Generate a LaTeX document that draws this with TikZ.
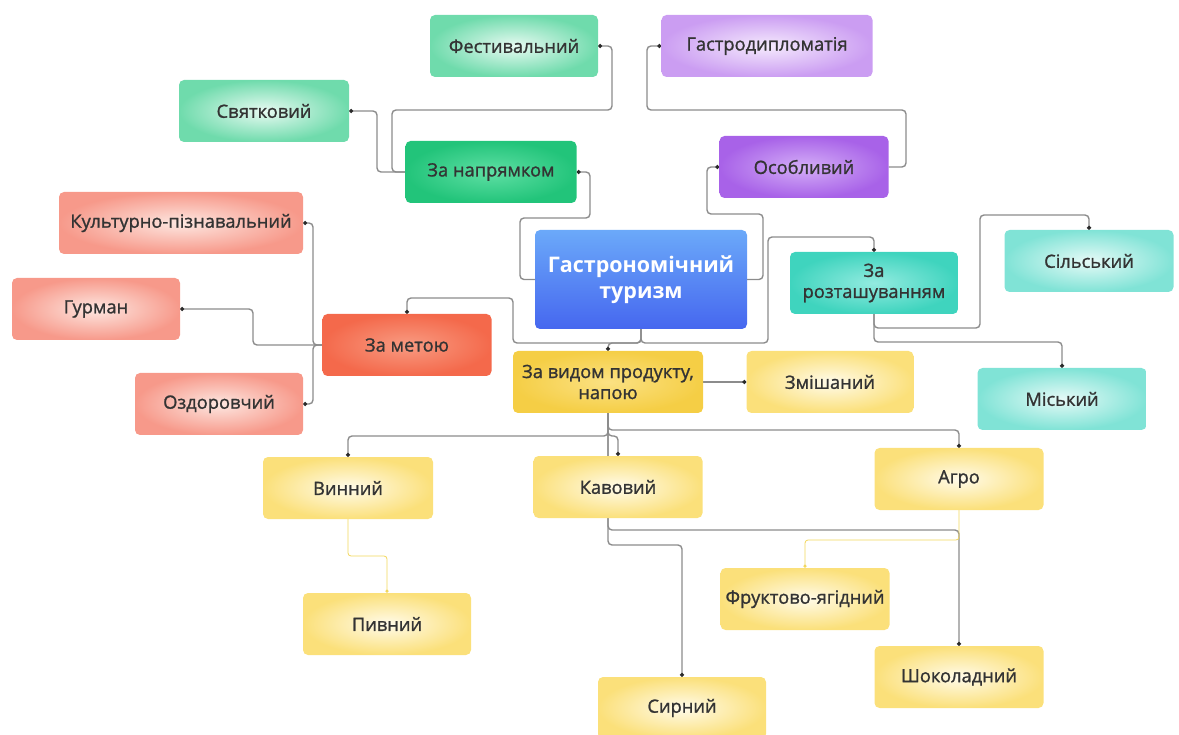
\documentclass[tikz,border=0pt]{standalone}
\usepackage{fontspec}
\setmainfont{Open Sans}
\newfontfamily\semib{Open Sans}[FakeBold=1.2]
\usetikzlibrary{arrows.meta,backgrounds}
\definecolor{txt}{HTML}{333333}
\definecolor{ln}{HTML}{8C8C8C}
\definecolor{tip}{HTML}{2A2A2A}
\definecolor{ylin}{HTML}{F2D65C}
\definecolor{lgO}{HTML}{6FDBAC}\definecolor{lgI}{HTML}{E8FAF2}
\definecolor{sgO}{HTML}{22C47A}\definecolor{sgI}{HTML}{5FDFA4}
\definecolor{lpO}{HTML}{CB9DF2}\definecolor{lpI}{HTML}{F5EAFD}
\definecolor{spO}{HTML}{A862E8}\definecolor{spI}{HTML}{D4AEF7}
\definecolor{lrO}{HTML}{F7998A}\definecolor{lrI}{HTML}{FDE7E1}
\definecolor{srO}{HTML}{F4694B}\definecolor{srI}{HTML}{F89B82}
\definecolor{ltO}{HTML}{80E3D6}\definecolor{ltI}{HTML}{E6FAF7}
\definecolor{stO}{HTML}{3FD4BE}\definecolor{stI}{HTML}{93EBE0}
\definecolor{lyO}{HTML}{FBE07A}\definecolor{lyI}{HTML}{FFFBEA}
\definecolor{syO}{HTML}{F5CE45}\definecolor{syI}{HTML}{FBE183}
\definecolor{blT}{HTML}{6BA9F9}\definecolor{blB}{HTML}{4667EF}
\tikzset{
  box/.style={rounded corners=5pt, minimum height=62pt, inner sep=2pt, align=center,
    text=txt, font=\semib\fontsize{18.3}{21}\selectfont},
  lgreen/.style={box, inner color=lgI, outer color=lgO},
  sgreen/.style={box, inner color=sgI, outer color=sgO},
  lpurple/.style={box, inner color=lpI, outer color=lpO},
  spurple/.style={box, inner color=spI, outer color=spO},
  lred/.style={box, inner color=lrI, outer color=lrO},
  sred/.style={box, inner color=srI, outer color=srO},
  lteal/.style={box, inner color=ltI, outer color=ltO},
  steal/.style={box, inner color=stI, outer color=stO},
  lyellow/.style={box, inner color=lyI, outer color=lyO},
  syellow/.style={box, inner color=syI, outer color=syO},
  conn/.style={draw=ln, line width=1.4pt, rounded corners=4pt, -{Circle[length=4pt,fill=tip,color=tip]}},
  yconn/.style={draw=ylin, line width=0.8pt, rounded corners=3pt, -{Circle[length=3.2pt,fill=ylin,color=ylin]}},
}
\begin{document}
\begin{tikzpicture}[x=1pt,y=-1pt]
\useasboundingbox (0,0) rectangle (1179,735);
% nodes
\node[lgreen, minimum width=168pt] (fest) at (514,46) {Фестивальний};
\node[lpurple, minimum width=211pt] (gdip) at (767,46) {Гастродипломатія};
\node[lgreen, minimum width=170pt] (svyat) at (264,111) {Святковий};
\node[sgreen, minimum width=171pt] (napr) at (491,172) {За напрямком};
\node[spurple, minimum width=169pt] (osob) at (804,167) {Особливий};
\node[lred, minimum width=244pt] (kult) at (181,223) {Культурно-пізнавальний};
\node[lred, minimum width=168pt] (gurm) at (96,309) {Гурман};
\node[sred, minimum width=169pt] (meta) at (407,345) {За метою};
\node[lred, minimum width=168pt] (ozd) at (219,404) {Оздоровчий};
\node[box, minimum width=212pt, minimum height=99pt, top color=blT, bottom color=blB,
  text=white, font=\fontsize{21.5}{26}\selectfont\bfseries] (cen) at (641,279.5) {Гастрономічний\\туризм};
\node[steal, minimum width=168pt] (rozt) at (874,283) {За\\розташуванням};
\node[lteal, minimum width=169pt] (sils) at (1089,261) {Сільський};
\node[lteal, minimum width=169pt] (misk) at (1062,399) {Міський};
\node[syellow, minimum width=190pt] (vyd) at (608,382) {За видом продукту,\\напою};
\node[lyellow, minimum width=167pt] (zmish) at (830,382) {Змішаний};
\node[lyellow, minimum width=170pt] (vynn) at (348,488) {Винний};
\node[lyellow, minimum width=169pt] (kav) at (618,487) {Кавовий};
\node[lyellow, minimum width=169pt] (agro) at (959,479) {Агро};
\node[lyellow, minimum width=168pt] (pyvn) at (387,624) {Пивний};
\node[lyellow, minimum width=169pt] (frukt) at (805,599) {Фруктово-ягідний};
\node[lyellow, minimum width=169pt] (shok) at (959,677) {Шоколадний};
\node[lyellow, minimum width=168pt] (syrn) at (682,708) {Сирний};
% connectors
\begin{scope}[on background layer]
\draw[conn] (cen.west) -| (520,218) -| (590,172) -- (napr.east);
\draw[conn] (napr.west) -- (392,172) |- (612,110) |- (fest.east);
\draw[conn] (napr.west) -- (377,172) |- (svyat.east);
\draw[conn] (cen.east) -| (763,214) -| (707,167) -- (osob.west);
\draw[conn] (osob.east) -| (906,110) -| (647,46) -- (gdip.west);
\draw[conn] (cen.south) -- (641,343) -| (vyd.north);
\draw[conn] (cen.south) -- (641,343) -| (513,298) -| (meta.north);
\draw[conn] (cen.south) -- (641,343) -| (768,237) -| (rozt.north);
\draw[conn] (meta.west) -- (313,345) |- (kult.east);
\draw[conn] (meta.west) -- (313,345) |- (ozd.east);
\draw[conn] (meta.west) -| (253,309) -- (gurm.east);
\draw[conn] (rozt.south) -- (874,328) -| (980,215) -| (sils.north);
\draw[conn] (rozt.south) -- (874,342) -| (misk.north);
\draw[conn] (vyd.east) -- (zmish.west);
\draw[conn] (vyd.south) -- (608,430) -| (agro.north);
\draw[conn] (vyd.south) -- (608,436) -| (vynn.north);
\draw[conn] (vyd.south) -- (608,436) -| (kav.north);
\draw[conn] (vyd.south) -- (608,545) -| (syrn.north);
\draw[conn] (vyd.south) -- (608,530) -| (shok.north);
\draw[yconn] (agro.south) -- (959,540) -| (frukt.north);
\draw[yconn] (vynn.south) -- (348,556) -| (pyvn.north);
\end{scope}
\end{tikzpicture}
\end{document}
